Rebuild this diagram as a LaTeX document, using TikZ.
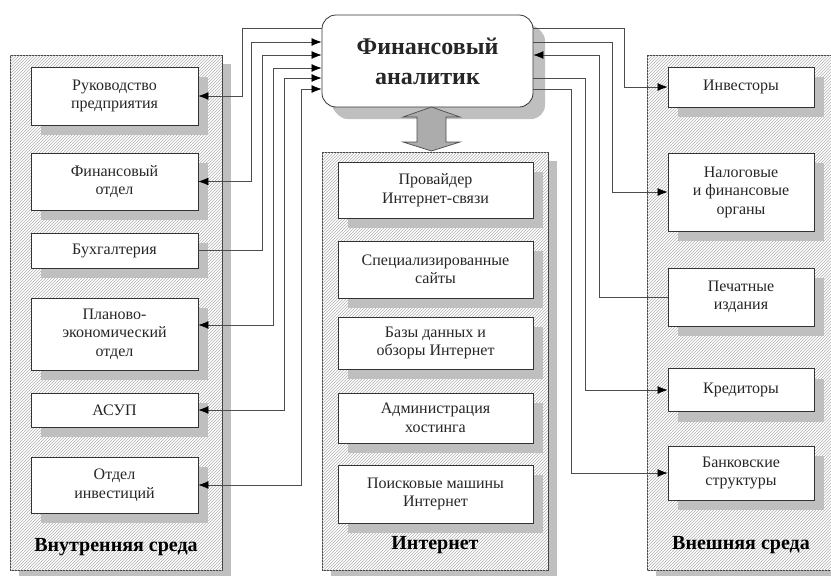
\documentclass[tikz,border=0pt]{standalone}
\usepackage{fontspec}
\setmainfont{Liberation Serif}
\usetikzlibrary{arrows.meta,shadows,patterns}

\begin{document}
\begin{tikzpicture}[x=1pt,y=-1pt,
		>={Latex[length=10pt,width=8pt,color=black]},
		ten/.style={drop shadow={shadow xshift=#1,shadow yshift=-#1,fill=gray!50,opacity=1}},
		sreda/.style={draw=black!75,line width=0.7pt,fill=white,inner sep=0pt,
			postaction={pattern=north east lines,pattern color=gray!60},ten=9pt},
		blok/.style={draw=black!80,line width=0.8pt,fill=white,align=center,inner sep=2pt,
			text=black!85,font=\fontsize{16}{18.5}\selectfont,ten=10pt},
		zag/.style={font=\bfseries\fontsize{20}{24}\selectfont},
		svyaz/.style={draw=black!70,line width=0.7pt}]
				\clip (0,0) rectangle (831,576);
				% среды
				\node[sreda,minimum width=212pt,minimum height=515pt] (vnutr) at (116,312.5) {};
				\node[sreda,minimum width=226pt,minimum height=418pt] (inet) at (435,361) {};
				\node[sreda,minimum width=198pt,minimum height=515pt] (vnesh) at (746,312.5) {};
				\node[zag] (vnutrlab) at (116,547) {Внутренняя среда};
				\node[zag] (inetlab) at (435,545) {Интернет};
				\node[zag] (vneshlab) at (741,545) {Внешняя среда};
				% аналитик
				\node[blok,rounded corners=14pt,minimum width=211pt,minimum height=92pt,ten=12pt,
					font=\bfseries\fontsize{24}{30}\selectfont] (analitik) at (427.5,61) {Финансовый\\аналитик};
				\draw[draw=black!70,fill=gray!65,line width=0.7pt] (431.5,107) -- (460,117) -- (446,117) -- (446,142) -- (460,142)
					-- (431.5,151) -- (403,142) -- (417,142) -- (417,117) -- (403,117) -- cycle;
				% внутренняя среда
				\node[blok,minimum width=167pt,minimum height=58pt] (ruk) at (114.5,96) {Руководство\\предприятия};
				\node[blok,minimum width=167pt,minimum height=57pt] (fin) at (114.5,181.5) {Финансовый\\отдел};
				\node[blok,minimum width=167pt,minimum height=35pt] (buh) at (114.5,250.5) {Бухгалтерия};
				\node[blok,minimum width=167pt,minimum height=72pt] (plan) at (114.5,334) {Планово-\\экономический\\отдел};
				\node[blok,minimum width=167pt,minimum height=34pt] (asup) at (114.5,410) {АСУП};
				\node[blok,minimum width=167pt,minimum height=56pt] (otd) at (114.5,485) {Отдел\\инвестиций};
				% интернет
				\node[blok,minimum width=195pt,minimum height=56pt] (prov) at (435.5,190) {Провайдер\\Интернет-связи};
				\node[blok,minimum width=195pt,minimum height=57pt] (sajt) at (435.5,269.5) {Специализированные\\сайты};
				\node[blok,minimum width=195pt,minimum height=52pt] (baza) at (435.5,343) {Базы данных и\\обзоры Интернет};
				\node[blok,minimum width=195pt,minimum height=50pt] (host) at (435.5,418) {Администрация\\хостинга};
				\node[blok,minimum width=195pt,minimum height=58pt] (poisk) at (435.5,494) {Поисковые машины\\Интернет};
				% внешняя среда
				\node[blok,minimum width=146pt,minimum height=40pt] (inv) at (741,87) {Инвесторы};
				\node[blok,minimum width=146pt,minimum height=78pt] (nal) at (741,192) {Налоговые\\и финансовые\\органы};
				\node[blok,minimum width=146pt,minimum height=58pt] (pech) at (741,297) {Печатные\\издания};
				\node[blok,minimum width=146pt,minimum height=43pt] (kred) at (741,390) {Кредиторы};
				\node[blok,minimum width=146pt,minimum height=54pt] (bank) at (741,473) {Банковские\\структуры};
				% связи
				\draw[svyaz,<-] (ruk.east) -| (242,28) -- (analitik.west |- 0,28);
				\draw[svyaz,<->] (fin.east) -| (251,42) -- (analitik.west |- 0,42);
				\draw[svyaz,->] (buh.east) -| (262,55) -- (analitik.west |- 0,55);
				\draw[svyaz,<->] ([yshift=9pt]plan.east) -| (273,68) -- (analitik.west |- 0,68);
				\draw[svyaz,<->] (asup.east) -| (284,78) -- (analitik.west |- 0,78);
				\draw[svyaz,<->] (otd.east) -| (301,89) -- (analitik.west |- 0,89);
				\draw[svyaz,->] (analitik.east |- 0,28) -- (624,28) |- (inv.west);
				\draw[svyaz,->] (analitik.east |- 0,42) -- (612,42) |- (nal.west);
				\draw[svyaz,<-] (analitik.east |- 0,55) -- (599,55) |- (pech.west);
				\draw[svyaz,->] (analitik.east |- 0,78) -- (585,78) |- (kred.west);
				\draw[svyaz,->] (analitik.east |- 0,89) -- (571,89) |- (bank.west);
			\end{tikzpicture}
\end{document}
